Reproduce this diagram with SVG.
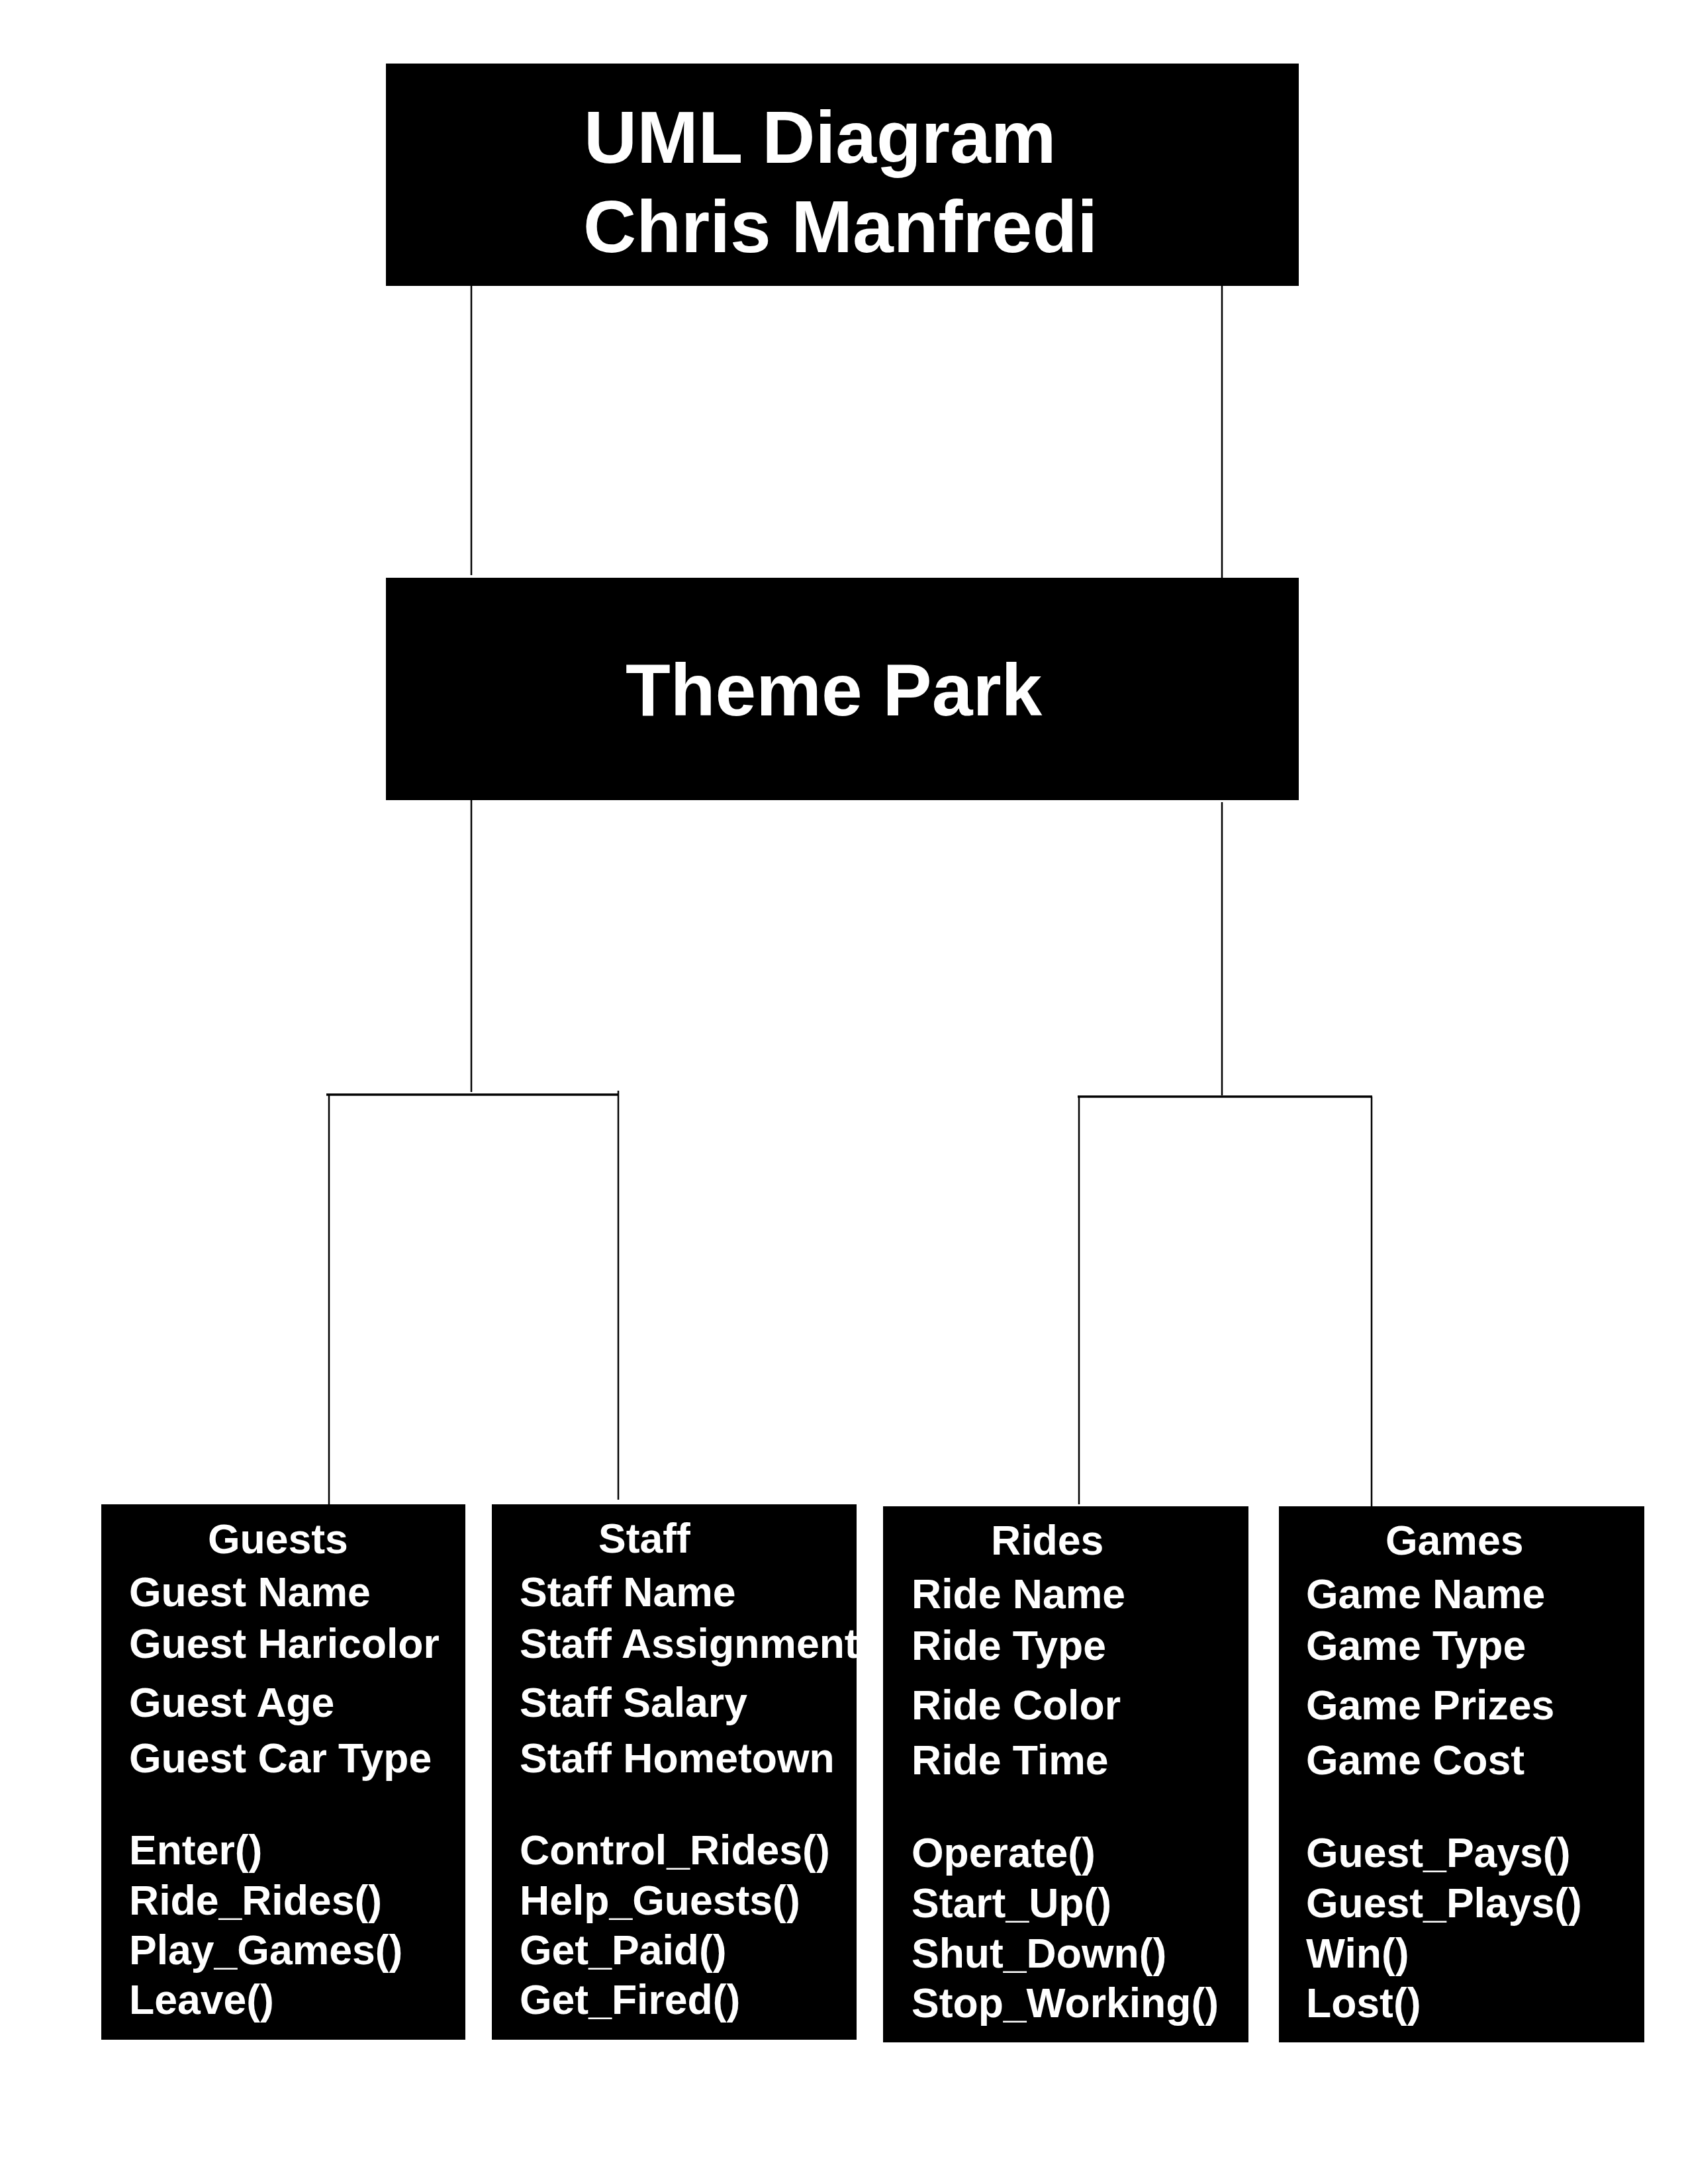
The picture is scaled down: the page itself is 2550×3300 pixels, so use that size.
<svg xmlns="http://www.w3.org/2000/svg" width="2550" height="3300" viewBox="0 0 2550 3300">
<style>
  .box { fill: #000000; }
  .hdr { fill: #ffffff; font-family: "Liberation Sans", Arial, Helvetica, sans-serif; font-weight: bold; font-size: 111px; }
  .t { fill: #ffffff; font-family: "Liberation Sans", Arial, Helvetica, sans-serif; font-weight: bold; font-size: 62.5px; }
  .ln { stroke: #000000; stroke-width: 2.5; fill: none; }
  .bar { stroke: #000000; stroke-width: 3.5; fill: none; }
</style>
<rect x="0" y="0" width="2550" height="3300" fill="#ffffff"/>

<g id="connectors">
  <line class="ln" x1="712" y1="432" x2="712" y2="869"/>
  <line class="ln" x1="1846" y1="432" x2="1846" y2="873"/>
  <line class="ln" x1="712" y1="1209" x2="712" y2="1650"/>
  <line class="ln" x1="1846" y1="1212" x2="1846" y2="1655"/>
  <line class="bar" x1="493" y1="1654" x2="935" y2="1654"/>
  <line class="ln" x1="497" y1="1654" x2="497" y2="2273"/>
  <line class="ln" x1="934" y1="1648" x2="934" y2="2266"/>
  <line class="bar" x1="1628" y1="1657" x2="2073" y2="1657"/>
  <line class="ln" x1="1630" y1="1657" x2="1630" y2="2273"/>
  <line class="ln" x1="2072" y1="1657" x2="2072" y2="2276"/>
</g>

<g id="title">
  <rect class="box" x="583" y="96" width="1379" height="336"/>
  <text class="hdr" x="882" y="246">UML Diagram</text>
  <text class="hdr" x="881" y="381">Chris Manfredi</text>
</g>

<g id="theme-park">
  <rect class="box" x="583" y="873" width="1379" height="336"/>
  <text class="hdr" x="945" y="1081">Theme Park</text>
</g>

<g id="guests">
  <rect class="box" x="153" y="2273" width="550" height="809"/>
  <text class="t" x="314" y="2347">Guests</text>
  <text class="t" x="195" y="2427">Guest Name</text>
  <text class="t" x="195" y="2505">Guest Haricolor</text>
  <text class="t" x="195" y="2594">Guest Age</text>
  <text class="t" x="195" y="2678">Guest Car Type</text>
  <text class="t" x="195" y="2817">Enter()</text>
  <text class="t" x="195" y="2893">Ride_Rides()</text>
  <text class="t" x="195" y="2968">Play_Games()</text>
  <text class="t" x="195" y="3043">Leave()</text>
</g>

<g id="staff">
  <rect class="box" x="743" y="2273" width="551" height="809"/>
  <text class="t" x="904" y="2346">Staff</text>
  <text class="t" x="785" y="2427">Staff Name</text>
  <text class="t" x="785" y="2505">Staff Assignment</text>
  <text class="t" x="785" y="2594">Staff Salary</text>
  <text class="t" x="785" y="2678">Staff Hometown</text>
  <text class="t" x="785" y="2817">Control_Rides()</text>
  <text class="t" x="785" y="2893">Help_Guests()</text>
  <text class="t" x="785" y="2968">Get_Paid()</text>
  <text class="t" x="785" y="3043">Get_Fired()</text>
</g>

<g id="rides">
  <rect class="box" x="1334" y="2276" width="552" height="810"/>
  <text class="t" x="1497" y="2349">Rides</text>
  <text class="t" x="1377" y="2430">Ride Name</text>
  <text class="t" x="1377" y="2508">Ride Type</text>
  <text class="t" x="1377" y="2598">Ride Color</text>
  <text class="t" x="1377" y="2681">Ride Time</text>
  <text class="t" x="1377" y="2821">Operate()</text>
  <text class="t" x="1377" y="2897">Start_Up()</text>
  <text class="t" x="1377" y="2973">Shut_Down()</text>
  <text class="t" x="1377" y="3048">Stop_Working()</text>
</g>

<g id="games">
  <rect class="box" x="1932" y="2276" width="552" height="810"/>
  <text class="t" x="2093" y="2349">Games</text>
  <text class="t" x="1973" y="2430">Game Name</text>
  <text class="t" x="1973" y="2508">Game Type</text>
  <text class="t" x="1973" y="2598">Game Prizes</text>
  <text class="t" x="1973" y="2681">Game Cost</text>
  <text class="t" x="1973" y="2821">Guest_Pays()</text>
  <text class="t" x="1973" y="2897">Guest_Plays()</text>
  <text class="t" x="1973" y="2973">Win()</text>
  <text class="t" x="1973" y="3048">Lost()</text>
</g>
</svg>
